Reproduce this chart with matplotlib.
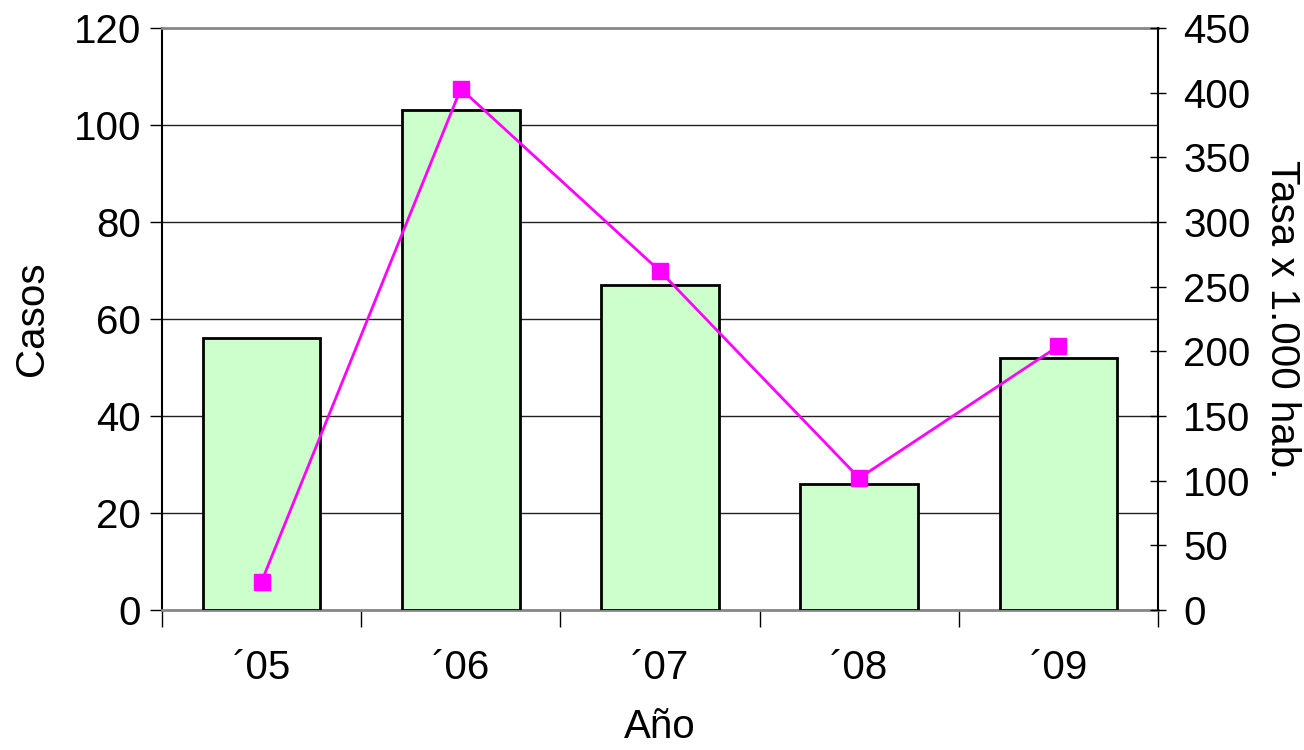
import matplotlib
matplotlib.use("Agg")
import matplotlib.pyplot as plt
import numpy as np

plt.rcParams["font.family"] = ["Liberation Sans", "DejaVu Sans"]

years = ["\u00b405", "\u00b406", "\u00b407", "\u00b408", "\u00b409"]
casos = [56, 103, 67, 26, 52]
tasa = [22, 403, 262, 102, 204]

fig = plt.figure(figsize=(13.04, 7.5), dpi=100)
ax = fig.add_axes([162 / 1304, 1 - 610 / 750, (1158 - 162) / 1304, (610 - 28) / 750])
x = np.arange(len(years))

ax.bar(x, casos, width=0.59, color="#ccffcc", edgecolor="black", linewidth=2, zorder=3)
ax.set_xlim(-0.5, len(years) - 0.5)
ax.set_ylim(0, 120)
ax.set_yticks(range(0, 121, 20))
ax.yaxis.grid(True, color="#222222", linewidth=1, zorder=0)
ax.set_xticks(x)
ax.set_xticklabels(years)
ax.set_xticks(np.arange(-0.5, len(years)), minor=True)
ax.tick_params(axis="x", which="major", length=0, pad=28, labelsize=29)
ax.tick_params(axis="x", which="minor", length=12, width=1, color="black")
ax.tick_params(axis="y", length=9, width=1, labelsize=29, pad=6, direction="out")
ax.spines["top"].set_color("#888888")
ax.spines["top"].set_linewidth(2)
ax.spines["bottom"].set_color("#888888")
ax.spines["bottom"].set_linewidth(2)
ax.spines["left"].set_linewidth(1.5)
ax.spines["right"].set_visible(False)
ax.set_ylabel("Casos", fontsize=29, labelpad=16)
ax.set_xlabel("A\u00f1o", fontsize=29, labelpad=15)

ax2 = ax.twinx()
ax2.plot(x, tasa, color="#ff00ff", linewidth=2, marker="s", markersize=11,
         markerfacecolor="#ff00ff", markeredgecolor="#ff00ff", zorder=5)
ax2.set_ylim(0, 450)
ax2.set_yticks(range(0, 451, 50))
ax2.tick_params(axis="y", length=12, width=1, labelsize=29, pad=12, direction="inout")
for s in ["top", "bottom", "left"]:
    ax2.spines[s].set_visible(False)
ax2.spines["right"].set_linewidth(1.5)
ax2.set_ylabel("Tasa x 1.000 hab.", fontsize=29, rotation=270, labelpad=36)

fig.savefig("out.png", dpi=100)
